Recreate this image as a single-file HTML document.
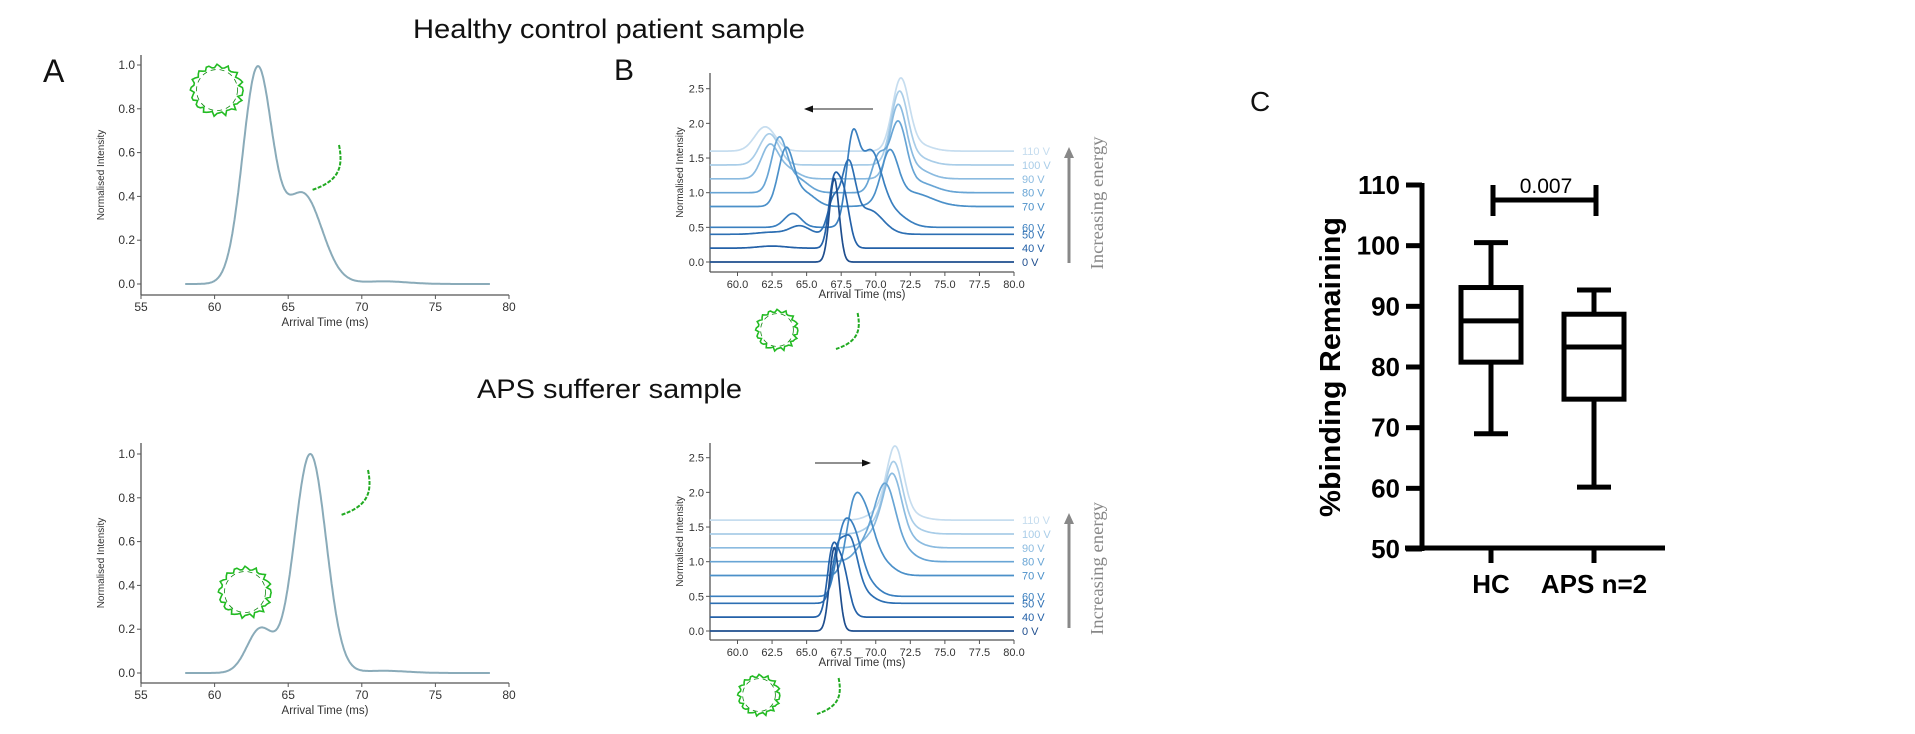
<!DOCTYPE html>
<html><head><meta charset="utf-8"><style>
html,body{margin:0;padding:0;background:#fff;}
svg{display:block;font-family:"Liberation Sans",sans-serif;}
</style></head><body>
<svg id="fig" width="1915" height="734" viewBox="0 0 1915 734" xmlns="http://www.w3.org/2000/svg">
<text x="413" y="38" font-size="27" fill="#111" textLength="392" lengthAdjust="spacingAndGlyphs">Healthy control patient sample</text>
<text x="477" y="398" font-size="27" fill="#111" textLength="265" lengthAdjust="spacingAndGlyphs">APS sufferer sample</text>
<text x="43" y="82" font-size="32" fill="#111">A</text>
<text x="614" y="80" font-size="30" fill="#111">B</text>
<text x="1250" y="111" font-size="28" fill="#111">C</text>
<g id="gA1"></g>
<g id="gA2"></g>
<g id="gB1"></g>
<g id="gB2"></g>
<g id="gC"></g>
<g id="gMol"></g>
</svg>
<script>
// ---- data ----
const aTicksX = [55,60,65,70,75,80];
const aTicksY = [0.0,0.2,0.4,0.6,0.8,1.0];
// gaussian components [center ms, height, sigma]
const aHealthyPeaks = [[62.9,0.97,1.0],[66.0,0.41,1.3],[71.5,0.012,1.6]];
const aApsPeaks = [[63.1,0.20,0.9],[66.5,1.0,1.08],[71.5,0.01,1.6]];
const bTicksX = [60.0,62.5,65.0,67.5,70.0,72.5,75.0,77.5,80.0];
const bTicksY = [0.0,0.5,1.0,1.5,2.0,2.5];
const voltages = ['0 V','40 V','50 V','60 V','70 V','80 V','90 V','100 V','110 V'];
const offsets = [0,0.2,0.4,0.5,0.8,1.0,1.2,1.4,1.6];
const bHealthyPeaks = [
 [[67.0,1.2,0.35]],
 [[62.5,0.03,1],[66.9,0.75,0.35],[67.6,0.85,0.45]],
 [[62.5,0.03,1],[64.5,0.12,0.7],[66.9,0.45,0.4],[68.0,0.95,0.5],[69.5,0.35,1.0]],
 [[64.0,0.2,0.6],[68.3,1.1,0.45],[69.6,1.05,0.8],[71.2,0.2,1.0]],
 [[63.5,0.8,0.55],[64.8,0.2,0.8],[71.0,0.7,0.6],[72.5,0.2,1.5]],
 [[63.0,0.75,0.55],[64.3,0.2,0.8],[70.2,0.5,0.5],[71.6,0.95,0.6],[73,0.15,1.2]],
 [[62.3,0.45,0.6],[63.5,0.15,0.8],[71.6,1.0,0.6],[72.8,0.15,1]],
 [[62.3,0.45,0.7],[71.7,1.0,0.6],[72.8,0.12,1]],
 [[62.0,0.35,0.75],[71.8,1.0,0.6],[72.9,0.1,1]]
];
const bApsPeaks = [
 [[67.0,1.2,0.35]],
 [[66.8,0.7,0.35],[67.5,0.8,0.5]],
 [[67.2,0.6,0.4],[68.1,0.85,0.55],[69,0.15,0.8]],
 [[67.5,0.6,0.45],[68.3,0.85,0.6],[69.3,0.2,0.8]],
 [[68.3,0.6,0.5],[69.1,0.85,0.7],[70.3,0.2,0.9]],
 [[69.5,0.3,0.8],[70.7,0.9,0.7],[71.6,0.2,1]],
 [[70.0,0.2,0.8],[71.2,0.9,0.65],[72,0.15,1]],
 [[70.2,0.15,0.8],[71.3,0.9,0.62],[72.1,0.12,1]],
 [[70.3,0.12,0.8],[71.4,0.95,0.6],[72.2,0.1,1]]
];
const cCategories = ['HC','APS n=2'];
const cWhiskerLow = [69.0,60.2];
const cQ1 = [80.8,74.7];
const cMedian = [87.6,83.3];
const cQ3 = [93.1,88.7];
const cWhiskerHigh = [100.5,92.7];
const cTicksY = [50,60,70,80,90,100,110];
const cPValue = '0.007';

const NS='http://www.w3.org/2000/svg';
function mk(tag,attrs,parent){const e=document.createElementNS(NS,tag);for(const k in attrs)e.setAttribute(k,attrs[k]);parent.appendChild(e);return e;}
function gsum(p,x){let s=0;for(const c of p)s+=c[1]*Math.exp(-(x-c[0])*(x-c[0])/(2*c[2]*c[2]));return s;}
const colors=['#1f4e8e','#2461a8','#2d6fb3','#3a7fbf','#4b90c9','#68a5d5','#8bbbe0','#a9cde8','#c6ddef'];

function axesMpl(g,x0,x1,px0,px1,spineLeft,y0,y1,py0,py1,spineTop,spineBot,xt,yt,fmt,ytitleX,xtitleY,fs){
  const X=v=>px0+(v-x0)/(x1-x0)*(px1-px0);
  const Y=v=>py0+(v-y0)/(y1-y0)*(py1-py0);
  let e=mk('line',{x1:spineLeft,y1:spineTop,x2:spineLeft,y2:spineBot,stroke:'#555','stroke-width':1.3},g);
  
  e=mk('line',{x1:spineLeft,y1:spineBot,x2:px1,y2:spineBot,stroke:'#555','stroke-width':1.3},g);
  
  for(const t of xt){
    const l=mk('line',{x1:X(t),y1:spineBot,x2:X(t),y2:spineBot+4,stroke:'#555','stroke-width':1},g);
    
    const tx=mk('text',{x:X(t),y:spineBot+16,'font-size':fs,'text-anchor':'middle',fill:'#333'},g);
    
    tx.textContent=fmt(t);
  }
  for(const t of yt){
    const l=mk('line',{x1:spineLeft-4,y1:Y(t),x2:spineLeft,y2:Y(t),stroke:'#555','stroke-width':1},g);
    
    const tx=mk('text',{x:spineLeft-6,y:Y(t)+4,'font-size':fs,'text-anchor':'end',fill:'#333'},g);
    
    tx.textContent=t.toFixed(1);
  }
  const mid=(spineTop+spineBot)/2;
  let tt=mk('text',{x:ytitleX,y:mid,'font-size':10,'text-anchor':'middle',fill:'#333',transform:`rotate(-90 ${ytitleX} ${mid})`},g);
  
  tt.textContent='Normalised Intensity';
  tt=mk('text',{x:(spineLeft+px1)/2,y:xtitleY,'font-size':11.5,'text-anchor':'middle',fill:'#333'},g);
  
  tt.textContent='Arrival Time (ms)';
  return {X,Y};
}

function panelA(id,peaks,py0,py1,spineTop,spineBot){
  const g=document.getElementById(id);
  const {X,Y}=axesMpl(g,55,80,141,509,141,0,1,py0,py1,spineTop,spineBot,aTicksX,aTicksY,v=>String(v),104,spineBot+31,12);
  let d='';
  for(let x=58;x<=78.7;x+=0.05){d+=(d?'L':'M')+X(x).toFixed(1)+','+Y(gsum(peaks,x)).toFixed(1);}
  const p=mk('path',{d,fill:'none',stroke:'#8aabb9','stroke-width':2},g);
  
}
panelA('gA1',aHealthyPeaks,284,65,55,295);
panelA('gA2',aApsPeaks,673,454,443,683);

function panelB(id,peaks,py0,py1,spineTop,spineBot,arrowFrom,arrowTo,arrowY,energyTop,energyBot){
  const g=document.getElementById(id);
  const {X,Y}=axesMpl(g,60,80,737.5,1014,710,0,2.5,py0,py1,spineTop,spineBot,bTicksX,bTicksY,v=>v.toFixed(1),683,spineBot+26,11);
  for(let i=peaks.length-1;i>=0;i--){
    let d='';
    for(let x=58;x<=80;x+=0.05){d+=(d?'L':'M')+X(x).toFixed(1)+','+Y(offsets[i]+gsum(peaks[i],x)).toFixed(1);}
    const p=mk('path',{d,fill:'none',stroke:colors[i],'stroke-width':1.7},g);
    
    const t=mk('text',{x:1022,y:Y(offsets[i])+4,'font-size':11,fill:colors[i]},g);
    
    t.textContent=voltages[i];
  }
  const dir=arrowTo>arrowFrom?-1:1;
  let a=mk('line',{x1:arrowFrom,y1:arrowY,x2:arrowTo+dir*6,y2:arrowY,stroke:'#222','stroke-width':1},g);
  
  a=mk('polygon',{points:`${arrowTo},${arrowY} ${arrowTo+dir*9},${arrowY-3.5} ${arrowTo+dir*9},${arrowY+3.5}`,fill:'#111'},g);
  
  a=mk('line',{x1:1069,y1:energyBot,x2:1069,y2:energyTop+10,stroke:'#888','stroke-width':3},g);
  
  a=mk('polygon',{points:`1069,${energyTop} 1064,${energyTop+11} 1074,${energyTop+11}`,fill:'#888'},g);
  
  const cy=(energyTop+energyBot)/2-2;
  const t=mk('text',{x:1097,y:cy,'font-size':18,'text-anchor':'middle',fill:'#888','font-family':'Liberation Serif, serif',transform:`rotate(-90 1097 ${cy})`,dy:6,textLength:133,lengthAdjust:'spacingAndGlyphs'},g);
  
  t.textContent='Increasing energy';
}
panelB('gB1',bHealthyPeaks,262,88.7,73,272,873,804,109,147,263);
panelB('gB2',bApsPeaks,631,457.7,443,640,815,871,463,513,628);

// Panel C
(function(){
  const g=document.getElementById('gC');
  const Y=v=>549+(v-50)/(110-50)*(185-549);
  const xs=[1491,1594];
  let e=mk('line',{x1:1422,y1:183,x2:1422,y2:551,stroke:'#000','stroke-width':5},g);
  
  e=mk('line',{x1:1405,y1:548,x2:1665,y2:548,stroke:'#000','stroke-width':5},g);
  
  for(const t of cTicksY){
    const l=mk('line',{x1:1406,y1:Y(t),x2:1422,y2:Y(t),stroke:'#000','stroke-width':5},g);
    
    const tx=mk('text',{x:1400,y:Y(t)+9,'font-size':26,'font-weight':'bold','text-anchor':'end',fill:'#000'},g);
    
    tx.textContent=t;
  }
  const yt=mk('text',{x:1340,y:367,'font-size':29,'font-weight':'bold','text-anchor':'middle',fill:'#000',transform:'rotate(-90 1340 367)',textLength:300,lengthAdjust:'spacingAndGlyphs'},g);
  
  yt.textContent='%binding  Remaining';
  for(let i=0;i<2;i++){
    const x=xs[i];
    const l=mk('line',{x1:x,y1:548,x2:x,y2:563,stroke:'#000','stroke-width':5},g);
    
    const tx=mk('text',{x:x,y:593,'font-size':26,'font-weight':'bold','text-anchor':'middle',fill:'#000'},g);
    
    tx.textContent=cCategories[i];
    let w=mk('line',{x1:x,y1:Y(cWhiskerLow[i]),x2:x,y2:Y(cQ1[i]),stroke:'#000','stroke-width':5},g);
    
    w=mk('line',{x1:x,y1:Y(cQ3[i]),x2:x,y2:Y(cWhiskerHigh[i]),stroke:'#000','stroke-width':5},g);
    
    w=mk('line',{x1:x-17,y1:Y(cWhiskerLow[i]),x2:x+17,y2:Y(cWhiskerLow[i]),stroke:'#000','stroke-width':5},g);
    
    w=mk('line',{x1:x-17,y1:Y(cWhiskerHigh[i]),x2:x+17,y2:Y(cWhiskerHigh[i]),stroke:'#000','stroke-width':5},g);
    
    const b=mk('rect',{x:x-30,y:Y(cQ3[i]),width:60,height:Y(cQ1[i])-Y(cQ3[i]),fill:'#fff',stroke:'#000','stroke-width':5},g);
    
    const m=mk('line',{x1:x-30,y1:Y(cMedian[i]),x2:x+30,y2:Y(cMedian[i]),stroke:'#000','stroke-width':5},g);
    
  }
  let br=mk('path',{d:'M1493,185V216M1493,200H1596M1596,185V216',fill:'none',stroke:'#000','stroke-width':5},g);
  
  const pv=mk('text',{x:1546,y:193,'font-size':21,'text-anchor':'middle',fill:'#000'},g);
  
  pv.textContent=cPValue;
})();

// molecule sketches
(function(){
  const g=document.getElementById('gMol');
  function ring(cx,cy,r){
    let d='';
    for(let k=0;k<=60;k++){const a=k/60*Math.PI*2;const rr=r*(1+0.08*Math.sin(k*1.7)+0.05*Math.cos(k*3.1));d+=(k?'L':'M')+(cx+rr*Math.cos(a)).toFixed(1)+','+(cy+rr*Math.sin(a)*0.95).toFixed(1);}
    const p=mk('path',{d,fill:'none',stroke:'#22bb22','stroke-width':1.6},g);
    
    const q=mk('circle',{cx,cy,r:r*0.82,fill:'none',stroke:'#118811','stroke-width':0.8,'stroke-dasharray':'5 4'},g);
    
  }
  function hook(x,y,h){
    const p=mk('path',{d:`M${x+h*0.6},${y} C${x+h*0.7},${y+h*0.5} ${x+h*0.6},${y+h*0.8} ${x},${y+h}`,fill:'none',stroke:'#22aa22','stroke-width':2,'stroke-dasharray':'4 1.5'},g);
    
  }
  ring(217,90,25); hook(312,145,45);
  ring(245,592,25); hook(341,470,45);
  ring(777,330,20); hook(836,313,36);
  ring(759,695,20); hook(817,678,36);
})();
</script>
</body></html>
